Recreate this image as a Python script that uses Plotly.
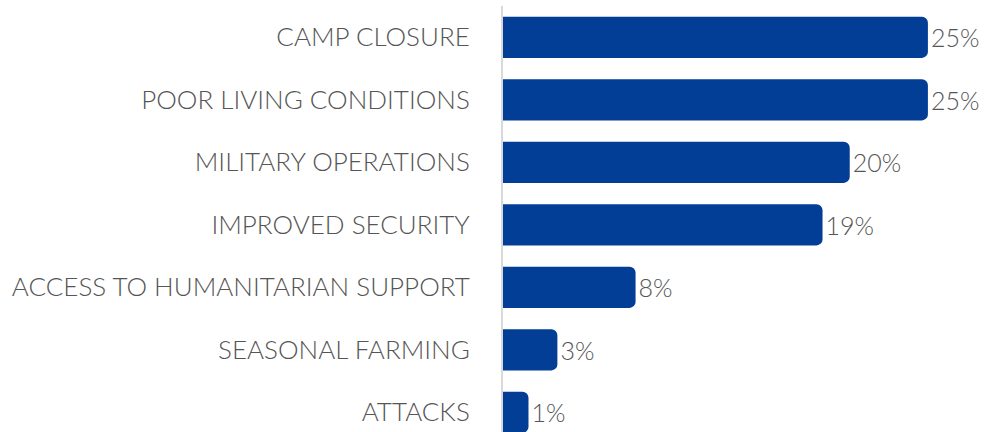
import plotly.graph_objects as go

categories = ["CAMP CLOSURE", "POOR LIVING CONDITIONS", "MILITARY OPERATIONS",
              "IMPROVED SECURITY", "ACCESS TO HUMANITARIAN SUPPORT",
              "SEASONAL FARMING", "ATTACKS"]
values = [25.0, 25.0, 20.4, 18.8, 7.8, 3.2, 1.5]
labels = ["25%", "25%", "20%", "19%", "8%", "3%", "1%"]

fig = go.Figure(go.Bar(
    x=values, y=categories, orientation="h",
    marker=dict(color="#023e96", line=dict(width=0)),
    text=labels, textposition="outside", cliponaxis=False,
    textfont=dict(family="Lato", size=25, color="#555555", weight=300),
    width=0.66,
))
fig.update_layout(
    width=984, height=432,
    margin=dict(l=503, r=0, t=6, b=0),
    plot_bgcolor="white", paper_bgcolor="white",
    showlegend=False, barcornerradius=6,
    xaxis=dict(range=[0, 28.3], visible=False, showgrid=False),
    yaxis=dict(categoryorder="array", categoryarray=categories,
               range=[6.316, -0.5], autorange=False, automargin=False,
               showgrid=False, ticks="", showline=True, linecolor="#d9d9d9",
               linewidth=2, ticklabelstandoff=26,
               tickfont=dict(family="Lato", size=26, color="#555555", weight=300)),
)
fig.write_html("out.html", config={"displayModeBar": False},
               post_script="document.body.style.margin='0';document.body.style.overflow='hidden';")
